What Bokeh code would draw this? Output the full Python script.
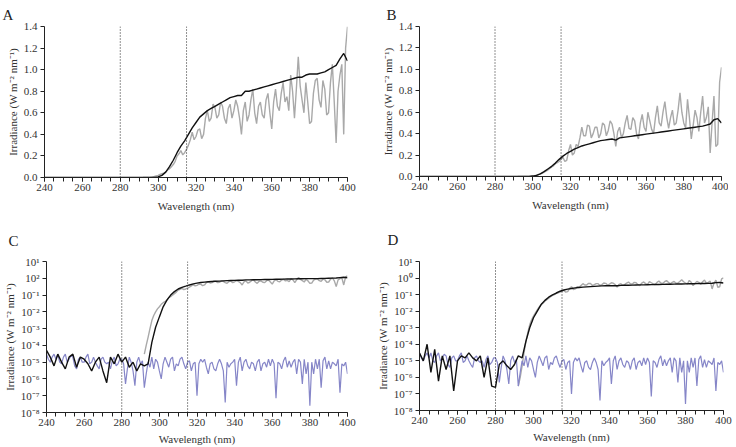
from bokeh.plotting import figure
from bokeh.layouts import column, row
from bokeh.models import FixedTicker, Span
from bokeh.embed import file_html
from bokeh.resources import INLINE

# ---------------- data ----------------
wl_model = list(range(240, 401, 2))      # modelled spectra, 2 nm
wl_meas = list(range(292, 401, 1))       # measured spectra, 1 nm
wl_noise = list(range(240, 401, 1))      # dark / noise spectrum, 1 nm

# condition 1 (panels A, C): modelled (black)
model_1 = [5e-5, 2e-5, 6e-6, 3e-5, 1e-5, 4e-6, 2e-5, 3e-5, 5e-6, 2e-5,
           1.5e-5, 8e-6, 3e-6, 1e-5, 2e-5, 3e-6, 6e-7, 2e-5, 8e-6, 3e-5,
           1e-5, 2e-5, 5e-6, 1e-5, 3e-6, 8e-6, 6e-6, 8e-6,
           1.5e-4, 1.2e-3, 5e-3, 0.02, 0.05, 0.10, 0.16, 0.23, 0.29, 0.34,
           0.40, 0.46, 0.51, 0.56, 0.59, 0.62, 0.64, 0.66, 0.68, 0.70,
           0.72, 0.74, 0.75, 0.76, 0.76, 0.80, 0.80, 0.81, 0.82, 0.83,
           0.84, 0.85, 0.86, 0.87, 0.88, 0.89, 0.90, 0.91, 0.92, 0.93,
           0.93, 0.95, 0.96, 0.96, 0.96, 0.97, 0.98, 1.00, 1.02, 1.04,
           1.10, 1.15, 1.08]
# condition 1: measured (grey)
measured_1 = [3e-5, 1e-4, 3e-4, 1e-3, 3e-3, 6e-3, 0.01, 0.015, 0.02, 0.028,
              0.035, 0.04, 0.05, 0.07, 0.08, 0.10, 0.12, 0.15, 0.20, 0.22,
              0.25, 0.21, 0.23, 0.26, 0.30, 0.35, 0.42, 0.35, 0.38, 0.44,
              0.45, 0.36, 0.40, 0.55, 0.62, 0.52, 0.55, 0.68, 0.65, 0.55,
              0.58, 0.70, 0.66, 0.55, 0.50, 0.64, 0.68, 0.55, 0.62, 0.72,
              0.66, 0.55, 0.40, 0.62, 0.70, 0.52, 0.58, 0.72, 0.82, 0.60,
              0.50, 0.66, 0.70, 0.58, 0.55, 0.72, 0.78, 0.60, 0.45, 0.70,
              0.82, 0.66, 0.62, 0.78, 0.88, 0.70, 0.75, 0.62, 0.95, 0.80,
              0.55, 0.82, 1.12, 0.85, 0.72, 0.60, 0.88, 0.70, 0.50, 0.52,
              0.78, 0.90, 0.92, 0.72, 0.65, 0.90, 0.82, 0.58, 0.60, 0.88,
              1.05, 0.70, 0.32, 0.80, 0.95, 1.05, 0.40, 1.20, 1.40]

# condition 2 (panels B, D): modelled (black)
model_2 = [3e-5, 1e-5, 1e-4, 2e-6, 5e-5, 6e-7, 2e-5, 3e-6, 2e-5, 1.5e-7,
           1e-5, 2e-5, 1.5e-5, 3e-5, 1.5e-5, 1e-5, 2e-5, 1e-6, 1.5e-5, 3e-7,
           2.5e-7, 6e-6, 1e-5, 5e-6, 3e-6, 6e-6, 2e-5, 1.5e-5,
           1.5e-4, 1e-3, 4e-3, 0.01, 0.025, 0.045, 0.07, 0.095, 0.125, 0.16,
           0.19, 0.215, 0.235, 0.255, 0.27, 0.285, 0.295, 0.305, 0.315, 0.325,
           0.335, 0.34, 0.345, 0.35, 0.34, 0.36, 0.365, 0.37, 0.375, 0.38,
           0.385, 0.39, 0.395, 0.40, 0.405, 0.41, 0.415, 0.42, 0.425, 0.43,
           0.435, 0.44, 0.445, 0.45, 0.455, 0.46, 0.465, 0.47, 0.48, 0.49,
           0.53, 0.54, 0.50]
# condition 2: measured (grey)
measured_2 = [3e-7, 1e-6, 5e-6, 3e-5, 1.5e-4, 5e-4, 1.5e-3, 3e-3, 5e-3, 8e-3,
              0.012, 0.018, 0.025, 0.03, 0.04, 0.05, 0.06, 0.075, 0.09, 0.10,
              0.12, 0.13, 0.14, 0.16, 0.18, 0.14, 0.15, 0.24, 0.30, 0.20,
              0.22, 0.30, 0.28, 0.36, 0.46, 0.38, 0.38, 0.48, 0.47, 0.36,
              0.40, 0.46, 0.46, 0.36, 0.40, 0.50, 0.48, 0.38, 0.43, 0.52,
              0.49, 0.40, 0.28, 0.42, 0.46, 0.36, 0.40, 0.50, 0.57, 0.45,
              0.44, 0.55, 0.52, 0.40, 0.35, 0.50, 0.58, 0.46, 0.42, 0.60,
              0.52, 0.44, 0.40, 0.55, 0.66, 0.50, 0.47, 0.60, 0.70, 0.55,
              0.45, 0.55, 0.62, 0.48, 0.50, 0.62, 0.78, 0.60, 0.50, 0.45,
              0.72, 0.55, 0.35, 0.48, 0.62, 0.55, 0.42, 0.60, 0.75, 0.50,
              0.55, 0.65, 0.22, 0.50, 0.75, 0.28, 0.30, 0.88, 1.02]

# dark / noise spectrum (purple, panels C and D)
noise = [3e-5, 1.5e-5, 1e-5, 2e-5, 3e-5, 1.5e-5, 3e-5, 1e-5, 8e-6, 2e-5,
         3e-5, 1e-5, 1.5e-5, 2.5e-5, 2e-5, 6e-6, 4e-6, 1.5e-5, 2e-5, 1e-5,
         1e-5, 2e-5, 3e-5, 8e-6, 1e-5, 2e-5, 1e-5, 6e-6, 4e-6, 1.5e-5,
         2e-5, 1e-5, 8e-6, 1e-5, 4e-6, 1.2e-5, 2e-5, 6e-6, 8e-6, 1.5e-5,
         1.5e-5, 8e-6, 5e-7, 4e-6, 2e-5, 1e-5, 3e-6, 4e-7, 1e-5, 2e-5,
         8e-6, 1.2e-5, 3e-7, 2e-6, 1e-5, 5e-6, 2e-5, 4e-6, 1.5e-5, 1e-5,
         3e-6, 1e-6, 8e-6, 2e-5, 1e-5, 5e-6, 1.5e-5, 2e-5, 3e-6, 8e-6,
         6e-6, 1.5e-5, 2e-5, 8e-6, 4e-6, 1e-5, 1.2e-5, 3e-6, 8e-6, 1e-5,
         1e-7, 8e-6, 1.5e-5, 1e-5, 1.5e-5, 5e-6, 2e-6, 8e-6, 1e-5, 4e-6,
         3e-6, 8e-6, 1.5e-5, 8e-6, 3e-6, 4e-8, 1e-5, 5e-6, 8e-6, 1e-5,
         1.5e-5, 4e-7, 1e-5, 2e-5, 3e-6, 1e-5, 1.5e-5, 6e-6, 4e-6, 1e-5,
         8e-6, 3e-6, 1e-5, 1.5e-5, 3e-6, 8e-6, 1e-5, 5e-6, 1.5e-5, 6e-6,
         1.5e-5, 8e-6, 7e-8, 1e-5, 8e-6, 4e-6, 1.2e-5, 2e-5, 5e-6, 1.2e-5,
         5e-6, 1e-5, 1.5e-5, 2e-6, 1.5e-5, 1e-5, 5e-7, 1.5e-5, 2e-6, 1e-5,
         2.5e-8, 1e-5, 2e-6, 1.5e-5, 4e-6, 1.5e-5, 3e-7, 1.2e-5, 2e-5, 4e-6,
         1.2e-5, 4e-6, 1e-5, 8e-6, 6e-6, 1.5e-5, 1.5e-7, 8e-6, 6e-6, 1e-5,
         2e-6]

x_ticks = [240, 260, 280, 300, 320, 340, 360, 380, 400]
x_minor = list(range(240, 401, 5))
lin_ticks = [0.0, 0.2, 0.4, 0.6, 0.8, 1.0, 1.2, 1.4]
log_ticks = [1e-8, 1e-7, 1e-6, 1e-5, 1e-4, 1e-3, 1e-2, 1e-1, 1e0, 1e1]
log_labels_C = ["10⁻⁸", "10⁻⁷", "10⁻⁶", "10⁻⁵", "10⁻⁴", "10⁻³", "10⁻²", "10⁻¹", "10²", "10¹"]
log_labels_D = ["10⁻⁸", "10⁻⁷", "10⁻⁶", "10⁻⁵", "10⁻⁴", "10⁻³", "10⁻²", "10⁻¹", "10⁰", "10¹"]
uv_bounds = [280, 315]

FONT = "Liberation Serif"
TXT = "#333333"


def make_panel(letter, model, measured, log, labels, fw, fh, bl, br, bt, bb,
               title_off, title_so, xlab_so):
    kw = dict(x_range=(240, 400), frame_width=fw, frame_height=fh,
              output_backend="svg", toolbar_location=None,
              min_border_left=bl, min_border_right=br,
              min_border_top=bt, min_border_bottom=bb)
    if log:
        p = figure(y_axis_type="log", y_range=(1e-8, 10), **kw)
    else:
        p = figure(y_range=(0, 1.4), **kw)
    p.grid.visible = False
    p.outline_line_color = None
    p.background_fill_color = "white"
    p.border_fill_color = "white"

    p.line(wl_meas, measured, line_color="#a9a9a9", line_width=1.4)
    if log:
        p.line(wl_noise, noise, line_color="#8686c8", line_width=1.2)
    p.line(wl_model, model, line_color="#111111", line_width=1.4)

    for b in uv_bounds:
        p.add_layout(Span(location=b, dimension="height", line_color="#222222",
                          line_width=1, line_dash="1 2"))

    p.xaxis.ticker = FixedTicker(ticks=x_ticks, minor_ticks=x_minor)
    if log:
        p.yaxis.ticker = FixedTicker(ticks=log_ticks)
        p.yaxis.major_label_overrides = {t: l for t, l in zip(log_ticks, labels)}
    else:
        p.yaxis.ticker = FixedTicker(ticks=lin_ticks)
        p.yaxis.major_label_overrides = {t: "%.1f" % t for t in lin_ticks}

    p.xaxis.axis_label = "Wavelength (nm)"
    p.yaxis.axis_label = "Irradiance (W m⁻² nm⁻¹)"
    for ax in (p.xaxis[0], p.yaxis[0]):
        ax.axis_line_color = "#222222"
        ax.axis_line_width = 1
        ax.major_tick_line_color = "#222222"
        ax.minor_tick_line_color = "#222222"
        ax.major_tick_out = 4
        ax.major_tick_in = 0
        ax.minor_tick_in = 0
        ax.major_label_text_font = FONT
        ax.major_label_text_font_size = "11px"
        ax.major_label_text_color = TXT
        ax.axis_label_text_font = FONT
        ax.axis_label_text_font_size = "11px"
        ax.axis_label_text_font_style = "normal"
        ax.axis_label_text_color = TXT
    p.xaxis.major_label_standoff = 2
    p.yaxis.major_label_standoff = 3
    p.xaxis.axis_label_standoff = xlab_so
    p.yaxis.axis_label_standoff = 2
    p.xaxis.minor_tick_out = 4
    p.yaxis.minor_tick_line_color = None

    p.title.text = letter
    p.title.align = "left"
    p.title.offset = title_off
    p.title.text_font = FONT
    p.title.text_font_size = "15px"
    p.title.text_font_style = "normal"
    p.title.text_color = "#222222"
    p.title.standoff = title_so
    return p


pA = make_panel("A", model_1, measured_1, False, None, 303, 151, 44, 13, 18, 39, -42, 7, 6)
pB = make_panel("B", model_2, measured_2, False, None, 302, 150, 59, 7, 19, 39, -33, 8, 6)
pC = make_panel("C", model_1, measured_1, True, log_labels_C, 301, 151, 40, 19, 44, 36, -38, 25, 4)
pD = make_panel("D", model_2, measured_2, True, log_labels_D, 304, 149, 53, 11, 46, 36, -32, 27, 4)

layout = column(row(pA, pB), row(pC, pD))

open("out.html", "w").write(file_html(layout, INLINE))
